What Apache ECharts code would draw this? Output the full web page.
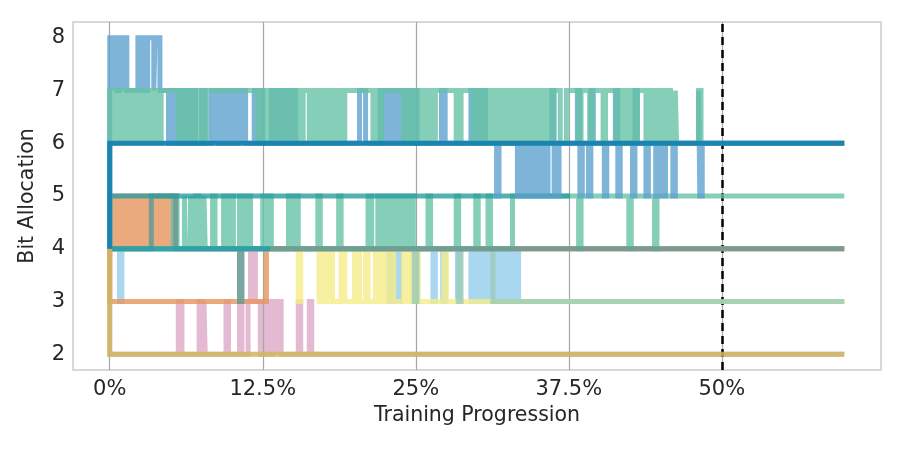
<!DOCTYPE html>
<html>
<head>
<meta charset="utf-8">
<script src="https://cdn.jsdelivr.net/npm/echarts@6/dist/echarts.min.js"></script>
<style>
  html, body { margin: 0; padding: 0; background: #fff; }
  #main { width: 904px; height: 452px; }
</style>
</head>
<body>
<div id="main"></div>
<script>
// tick labels
var xTicks = [0, 12.5, 25, 37.5, 50];
var yTicks = [2, 3, 4, 5, 6, 7, 8];
var budgetMark = 50;

// bits per layer, as [training %, bits] change points
var pinkBits = [[0,4],[0,2],[5.6,3],[5.9,2],[7.3,3],[7.5,2],[7.7,3],[7.8,2],[9.5,3],[9.7,2],[10.6,3],[10.8,2],
  [11.3,3],[11.5,4],[11.9,3],[12.3,2],[12.6,3],[13.0,2],[13.3,3],[13.7,2],[13.8,3],[14.0,2],[15.4,3],[15.6,2],
  [16.3,3],[16.5,2],[60,2]];
var skyBits = [[0,4],[0.8,3],[1.0,4],[22.8,3],[23.1,4],[23.4,3],[23.7,4],[24.8,3],[25.0,4],[26.4,3],[26.6,4],
  [27.2,3],[27.4,4],[28.4,3],[28.6,4],[29.5,3],[29.8,4],[30.1,3],[30.4,4],[30.7,3],[31.1,4],[31.4,3],[31.8,4],
  [32.1,3],[32.5,4],[32.8,3],[33.2,4],[33.4,3],[60,3]];
var yellowBits = [[0,4],[15.4,3],[15.6,4],[17.1,3],[17.4,4],[17.6,3],[17.9,4],[18.2,3],[18.9,4],[19.2,3],
  [20.0,4],[20.4,3],[20.9,4],[21.1,3],[21.7,4],[22.0,3],[22.3,4],[22.6,3],[22.9,4],[23.2,3],[24.0,4],[24.3,3],
  [24.5,4],[24.8,3],[25.0,4],[25.2,3],[27.3,4],[27.5,3],[60,3]];
var sageBits = [[0,4],[24.9,3],[25.1,4],[28.5,3],[28.7,4],[31.3,3],[60,3]];
var orangeABits = [[0,4],[0.4,5],[0.7,4],[1.0,5],[1.4,4],[1.7,5],[2.1,4],[2.4,5],[2.8,4],[3.1,5],[3.3,4],
  [3.6,5],[4.0,4],[4.3,5],[4.7,4],[4.9,5],[5.1,4],[60,4]];
var orangeBBits = [[0,4],[0,3],[12.8,4],[60,4]];
var green2Bits = [[0,4],[5.2,5],[5.5,4],[6.1,5],[6.2,4],[6.6,5],[6.7,4],[7.0,5],[7.3,4],[7.7,5],[7.8,4],
  [8.4,5],[8.6,4],[9.3,5],[9.6,4],[9.8,5],[10.1,4],[10.6,5],[10.9,4],[11.2,5],[11.5,4],[12.5,5],[12.8,4],
  [13.0,5],[13.2,4],[14.6,5],[14.9,4],[15.1,5],[15.4,4],[17.0,5],[17.2,4],[18.7,5],[18.9,4],[21.1,5],[21.4,4],
  [21.9,5],[22.3,4],[22.6,5],[23.0,4],[23.3,5],[23.7,4],[24.0,5],[24.4,4],[24.6,5],[24.8,4],[26.0,5],[26.2,4],
  [28.3,5],[28.5,4],[29.9,5],[30.1,4],[30.9,5],[31.1,4],[32.9,5],[38.3,4],[38.5,5],[42.4,4],[42.6,5],
  [44.5,4],[44.7,5],[60,5]];
var slateBits = [[0,4],[3.4,5],[5.4,4],[10.6,3],[10.8,4],[60,4]];
var teal4Bits = [[0,4],[13.1,4]];
var teal5Bits = [[0,4],[0,5],[37.6,5]];
var goldBits = [[0,4],[0,2],[60,2]];
var blueBits = [[0,4],[0,8],[0.3,7],[0.32,8],[0.6,7],[0.8,8],[1.1,7],[1.12,8],[1.4,7],[2.3,8],[2.7,7],
  [3.1,8],[3.6,7],[3.7,8],[4.1,7],
  [4.8,6],[5.1,7],[5.4,6],[5.8,7],[6.2,6],[6.6,7],[7.0,6],[7.5,7],[7.8,6],
  [8.3,7],[8.6,6],[8.7,7],[8.9,6],[9.3,7],[9.6,6],[9.8,7],[10.1,6],[10.5,7],[10.8,6],[10.9,7],[11.1,6],
  [11.8,7],[12.1,6],[12.3,7],[12.5,6],[13.2,7],[13.6,6],[14.0,7],[14.4,6],[14.8,7],[15.2,6],
  [20.4,7],[20.9,6],[22.1,7],[22.5,6],[22.8,7],[23.2,6],[23.5,7],[23.8,6],[24.1,7],[24.5,6],[24.8,7],[25.1,6],
  [27.1,7],[27.4,6],[29.5,7],[29.8,6],[30.0,7],[30.2,6],[30.4,7],[30.7,6],[31.6,5],[31.8,6],
  [33.3,5],[33.7,6],[34.0,5],[34.4,6],[34.7,5],[35.1,6],[35.4,5],[35.8,6],[36.1,7],[36.3,5],[36.7,6],
  [38.2,7],[38.4,5],[38.6,6],[39.1,5],[39.3,7],[39.5,6],[40.4,5],[40.6,6],[41.3,7],[41.5,5],[41.7,6],
  [42.7,5],[42.9,7],[43.1,6],[43.8,5],[44.0,6],[44.6,5],[44.9,6],[45.1,5],[45.4,6],[46.0,5],[46.2,6],
  [48.1,7],[48.2,5],[48.4,6],[60,6]];
var green1Bits = [[0,4],[0,7],[0.4,6],[0.7,7],[1.1,6],[1.4,7],[1.8,6],[2.1,7],[2.5,6],[2.8,7],[3.2,6],[3.5,7],
  [3.9,6],[4.2,7],[5.6,6],[6.0,7],[6.3,6],[6.7,7],[7.0,6],[7.4,7],[7.7,6],[7.9,7],
  [12.1,6],[12.5,7],[12.8,6],[13.2,7],[13.5,6],[13.9,7],[14.2,6],[14.6,7],[14.9,6],[15.3,7],[15.6,6],[15.8,7],
  [16.3,6],[16.6,7],[16.9,6],[17.3,7],[17.6,6],[18.0,7],[18.3,6],[18.6,7],[18.8,6],[19.2,7],
  [21.5,6],[21.8,7],[22.0,6],[22.2,7],[24.0,6],[24.4,7],[24.7,6],[25.1,7],[25.5,6],[25.9,7],[26.2,6],[26.6,7],
  [28.3,6],[28.7,7],[29.7,6],[30.1,7],[30.4,6],[30.8,7],[31.1,6],[31.5,7],[31.8,6],[32.2,7],[32.5,6],[32.9,7],
  [33.2,6],[33.6,7],[33.9,6],[34.3,7],[34.6,6],[35.0,7],[35.3,6],[35.7,7],[36.0,6],[36.2,7],[36.8,6],[37.3,7],
  [38.3,6],[38.5,7],[39.2,6],[39.4,7],[40.3,6],[40.5,7],[41.4,6],[41.7,7],[41.9,6],[42.1,7],[42.4,6],[42.7,7],
  [42.9,6],[43.1,7],[43.8,6],[44.0,7],[44.4,6],[44.8,7],[45.1,6],[45.5,7],[45.8,6],[46.2,7],[46.3,6],
  [48.1,7],[48.3,6],[60,6]];
var deepBits = [[0,4],[0,6],[60,6]];

// draw order, bottom first
var layers = [
  { data: pinkBits, color: '#dda7c7' },
  { data: skyBits, color: '#95cdec' },
  { data: yellowBits, color: '#f4ec88' },
  { data: sageBits, color: '#9bcab8' },
  { data: orangeABits, color: '#e6955c' },
  { data: orangeBBits, color: '#e6955c' },
  { data: green2Bits, color: '#66c2a5' },
  { data: slateBits, color: '#6c9c97', opacity: 0.9 },
  { data: teal4Bits, color: '#1fa0ae' },
  { data: teal5Bits, color: '#2a9c9c' },
  { data: goldBits, color: '#d0b65e', opacity: 0.85 },
  { data: blueBits, color: '#5ca1cd' },
  { data: green1Bits, color: '#66c2a5' },
  { data: deepBits, color: '#137cb0', opacity: 0.9 }
];

var series = layers.map(function (l, i) {
  return {
    type: 'line',
    step: 'end',
    data: l.data,
    showSymbol: false,
    symbol: 'none',
    z: 3 + i,
    lineStyle: { color: l.color, width: 5, opacity: l.opacity || 0.8, join: 'miter', cap: 'butt' }
  };
});

// vertical grid lines under everything
series.unshift({
  type: 'line',
  data: [],
  z: 1,
  markLine: {
    silent: true,
    symbol: ['none', 'none'],
    label: { show: false },
    animation: false,
    lineStyle: { color: '#a6a6a6', width: 1.2, type: 'solid' },
    data: xTicks.map(function (v) { return { xAxis: v }; })
  }
});

// dashed budget marker on top
series.push({
  type: 'line',
  data: [],
  z: 30,
  markLine: {
    silent: true,
    symbol: ['none', 'none'],
    label: { show: false },
    animation: false,
    lineStyle: { color: '#000', width: 2.5, type: [8, 5] },
    data: [{ xAxis: budgetMark }]
  }
});

var myChart = echarts.init(document.getElementById('main'));
var option = {
  animation: false,
  backgroundColor: '#fff',
  grid: { left: 73, right: 23, top: 22, bottom: 82, show: true, borderColor: '#cccccc', borderWidth: 1.5, backgroundColor: 'transparent' },
  textStyle: { fontFamily: 'DejaVu Sans' },
  xAxis: {
    type: 'value',
    min: -3,
    max: 63,
    name: 'Training Progression',
    nameLocation: 'middle',
    nameGap: 35,
    nameTextStyle: { fontSize: 20.5, color: '#262626' },
    axisLine: { show: false },
    axisTick: { show: false },
    splitLine: { show: false },
    axisLabel: {
      customValues: xTicks,
      fontSize: 21,
      color: '#262626',
      margin: 9,
      formatter: function (v) { return v + '%'; }
    }
  },
  yAxis: {
    type: 'value',
    min: 1.7,
    max: 8.3,
    name: 'Bit Allocation',
    nameLocation: 'middle',
    nameGap: 35,
    nameTextStyle: { fontSize: 20.5, color: '#262626' },
    axisLine: { show: false },
    axisTick: { show: false },
    splitLine: { show: false },
    axisLabel: { customValues: yTicks, fontSize: 21, color: '#262626', margin: 8 }
  },
  series: series
};
myChart.setOption(option);
</script>
</body>
</html>
